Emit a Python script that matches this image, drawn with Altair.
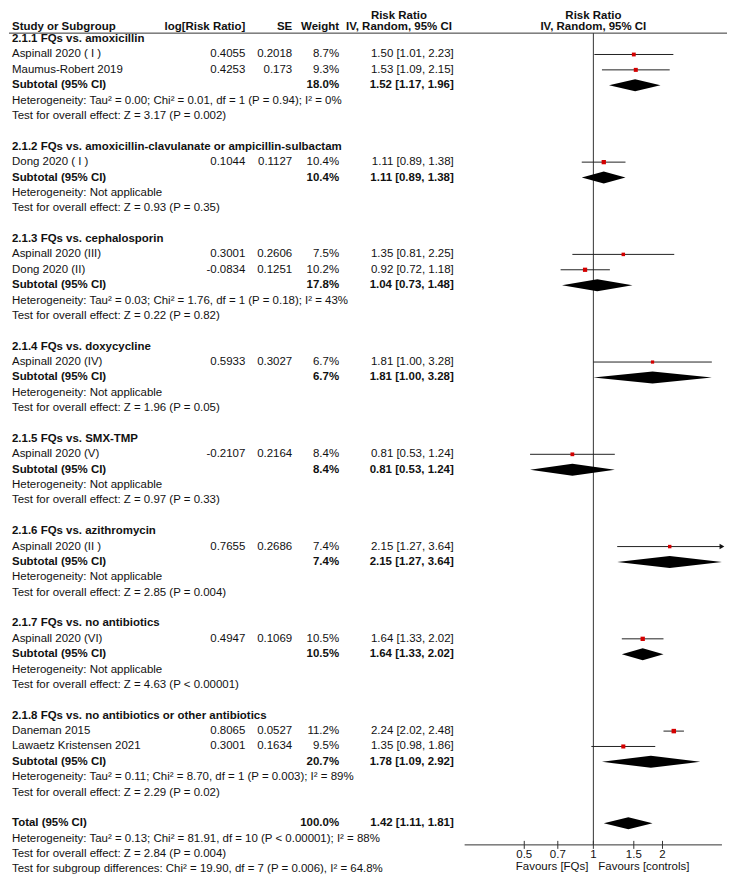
import math
import altair as alt
import pandas as pd

# ---------------- data ----------------
group_titles = [
    "2.1.1 FQs vs. amoxicillin",
    "2.1.2 FQs vs. amoxicillin-clavulanate or ampicillin-sulbactam",
    "2.1.3 FQs vs. cephalosporin",
    "2.1.4 FQs vs. doxycycline",
    "2.1.5 FQs vs. SMX-TMP",
    "2.1.6 FQs vs. azithromycin",
    "2.1.7 FQs vs. no antibiotics",
    "2.1.8 FQs vs. no antibiotics or other antibiotics",
]
study_names = [
    "Aspinall 2020 ( I )", "Maumus-Robert 2019", "Dong 2020 ( I )",
    "Aspinall 2020 (III)", "Dong 2020 (II)", "Aspinall 2020 (IV)",
    "Aspinall 2020 (V)", "Aspinall 2020 (II )", "Aspinall 2020 (VI)",
    "Daneman 2015", "Lawaetz Kristensen 2021",
]
study_group = [0, 0, 1, 2, 2, 3, 4, 5, 6, 7, 7]
study_log_rr = [0.4055, 0.4253, 0.1044, 0.3001, -0.0834, 0.5933, -0.2107, 0.7655, 0.4947, 0.8065, 0.3001]
study_se = [0.2018, 0.173, 0.1127, 0.2606, 0.1251, 0.3027, 0.2164, 0.2686, 0.1069, 0.0527, 0.1634]
study_weight = [8.7, 9.3, 10.4, 7.5, 10.2, 6.7, 8.4, 7.4, 10.5, 11.2, 9.5]
study_rr = [1.50, 1.53, 1.11, 1.35, 0.92, 1.81, 0.81, 2.15, 1.64, 2.24, 1.35]
study_lo = [1.01, 1.09, 0.89, 0.81, 0.72, 1.00, 0.53, 1.27, 1.33, 2.02, 0.98]
study_hi = [2.23, 2.15, 1.38, 2.25, 1.18, 3.28, 1.24, 3.64, 2.02, 2.48, 1.86]

subtotal_weight = [18.0, 10.4, 17.8, 6.7, 8.4, 7.4, 10.5, 20.7]
subtotal_rr = [1.52, 1.11, 1.04, 1.81, 0.81, 2.15, 1.64, 1.78]
subtotal_lo = [1.17, 0.89, 0.73, 1.00, 0.53, 1.27, 1.33, 1.09]
subtotal_hi = [1.96, 1.38, 1.48, 3.28, 1.24, 3.64, 2.02, 2.92]

heterogeneity = [
    "Heterogeneity: Tau² = 0.00; Chi² = 0.01, df = 1 (P = 0.94); I² = 0%",
    "Heterogeneity: Not applicable",
    "Heterogeneity: Tau² = 0.03; Chi² = 1.76, df = 1 (P = 0.18); I² = 43%",
    "Heterogeneity: Not applicable",
    "Heterogeneity: Not applicable",
    "Heterogeneity: Not applicable",
    "Heterogeneity: Not applicable",
    "Heterogeneity: Tau² = 0.11; Chi² = 8.70, df = 1 (P = 0.003); I² = 89%",
]
overall_effect = [
    "Test for overall effect: Z = 3.17 (P = 0.002)",
    "Test for overall effect: Z = 0.93 (P = 0.35)",
    "Test for overall effect: Z = 0.22 (P = 0.82)",
    "Test for overall effect: Z = 1.96 (P = 0.05)",
    "Test for overall effect: Z = 0.97 (P = 0.33)",
    "Test for overall effect: Z = 2.85 (P = 0.004)",
    "Test for overall effect: Z = 4.63 (P < 0.00001)",
    "Test for overall effect: Z = 2.29 (P = 0.02)",
]
total_weight = 100.0
total_rr, total_lo, total_hi = 1.42, 1.11, 1.81
total_notes = [
    "Heterogeneity: Tau² = 0.13; Chi² = 81.91, df = 10 (P < 0.00001); I² = 88%",
    "Test for overall effect: Z = 2.84 (P = 0.004)",
    "Test for subgroup differences: Chi² = 19.90, df = 7 (P = 0.006), I² = 64.8%",
]
tick_values = [0.5, 0.7, 1, 1.5, 2]
tick_labels = ["0.5", "0.7", "1", "1.5", "2"]
favours_labels = ["Favours [FQs]", "Favours [controls]"]

# ---------------- layout constants ----------------
FONT = "Liberation Sans, Arial, sans-serif"
FS = 11.5
TXT = "#111111"
W, H = 720, 866
ROW0_Y, ROW_STEP = 29.0, 15.42          # plot-area pixels of row 0 and per-row step
XMIN, XMAX = 0.275, 3.63                # plotted risk-ratio range
X_ONE = 586.0                           # pixel of RR = 1
PX_PER_LN = 100.0
N_ROWS_SPAN = 54


def row_at(y_px):
    return (y_px - ROW0_Y) / ROW_STEP


def ci_text(rr, lo, hi):
    return f"{rr:.2f} [{lo:.2f}, {hi:.2f}]"


# ---------------- build table ----------------
rows = []
r = 0
for g, title in enumerate(group_titles):
    rows.append(dict(row=r, kind="group", label=title))
    r += 1
    for i, gg in enumerate(study_group):
        if gg != g:
            continue
        rows.append(dict(row=r, kind="study", label=study_names[i],
                         logrr=str(study_log_rr[i]), se=str(study_se[i]),
                         wtxt=f"{study_weight[i]:.1f}%", w=study_weight[i],
                         ci=ci_text(study_rr[i], study_lo[i], study_hi[i]),
                         rr=study_rr[i], lo=study_lo[i], hi=study_hi[i]))
        r += 1
    rows.append(dict(row=r, kind="subtotal", label="Subtotal (95% CI)",
                     wtxt=f"{subtotal_weight[g]:.1f}%",
                     ci=ci_text(subtotal_rr[g], subtotal_lo[g], subtotal_hi[g]),
                     rr=subtotal_rr[g], lo=subtotal_lo[g], hi=subtotal_hi[g]))
    r += 1
    rows.append(dict(row=r, kind="note", label=heterogeneity[g]))
    r += 1
    rows.append(dict(row=r, kind="note", label=overall_effect[g]))
    r += 2
rows.append(dict(row=r, kind="subtotal", label="Total (95% CI)",
                 wtxt=f"{total_weight:.1f}%",
                 ci=ci_text(total_rr, total_lo, total_hi),
                 rr=total_rr, lo=total_lo, hi=total_hi))
r += 1
for note in total_notes:
    rows.append(dict(row=r, kind="note", label=note))
    r += 1

df = pd.DataFrame(rows)
AXIS_ROW = row_at(837)

# diamonds
HALF = 0.39
dia = []
for rec in rows:
    if rec["kind"] == "subtotal":
        rid = rec["row"]
        dia.append(dict(id=rid, x=rec["lo"], ya=rid, yb=rid))
        dia.append(dict(id=rid, x=rec["rr"], ya=rid - HALF, yb=rid + HALF))
        dia.append(dict(id=rid, x=rec["hi"], ya=rid, yb=rid))
dia_df = pd.DataFrame(dia)

ticks_df = pd.DataFrame(dict(t=tick_values, lab=tick_labels,
                             ra=[row_at(833)] * len(tick_values),
                             rb=[row_at(841)] * len(tick_values),
                             rl=[row_at(847.5)] * len(tick_values)))

# ---------------- scales ----------------
xscale = alt.Scale(type="log", domain=[XMIN, XMAX], nice=False, clamp=True,
                   range=[X_ONE + PX_PER_LN * math.log(XMIN), X_ONE + PX_PER_LN * math.log(XMAX)])
yscale = alt.Scale(domain=[0, N_ROWS_SPAN], nice=False, zero=False,
                   range=[ROW0_Y, ROW0_Y + ROW_STEP * N_ROWS_SPAN])


def X(field):
    return alt.X(field, type="quantitative", scale=xscale, axis=None)


def Y(field):
    return alt.Y(field, type="quantitative", scale=yscale, axis=None)


base = alt.Chart(df)


def text_layer(data, filt, field, x_px, align, bold=False, clip=False):
    ch = data if filt is None else data.transform_filter(filt)
    return ch.mark_text(align=align, baseline="middle", font=FONT, fontSize=FS, clip=clip,
                        fontWeight="bold" if bold else "normal", color=TXT).encode(
        x=alt.value(x_px), y=Y("row"), text=alt.Text(field, type="nominal"))


layers = []
# table text
layers.append(text_layer(base, "datum.kind == 'study' || datum.kind == 'note'", "label", 3, "left", clip=True))
layers.append(text_layer(base, "datum.kind == 'group' || datum.kind == 'subtotal'", "label", 3, "left", True))
layers.append(text_layer(base, "datum.kind == 'study'", "logrr", 237, "right"))
layers.append(text_layer(base, "datum.kind == 'study'", "se", 284, "right"))
layers.append(text_layer(base, "datum.kind == 'study'", "wtxt", 331, "right"))
layers.append(text_layer(base, "datum.kind == 'subtotal'", "wtxt", 331, "right", True))
layers.append(text_layer(base, "datum.kind == 'study'", "ci", 446, "right"))
layers.append(text_layer(base, "datum.kind == 'subtotal'", "ci", 446, "right", True))

# headers
H1, H2 = row_at(5.5), row_at(17)
LINE_ROW = row_at(23)
hdr = alt.Chart(pd.DataFrame(dict(
    label=["Study or Subgroup", "log[Risk Ratio]", "SE", "Weight", "Risk Ratio", "IV, Random, 95% CI"],
    row=[H2, H2, H2, H2, H1, H2],
    col=["a", "b", "c", "d", "e", "e"],
)))
layers.append(text_layer(hdr, "datum.col == 'a'", "label", 3, "left", True))
layers.append(text_layer(hdr, "datum.col == 'b'", "label", 237, "right", True))
layers.append(text_layer(hdr, "datum.col == 'c'", "label", 284, "right", True))
layers.append(text_layer(hdr, "datum.col == 'd'", "label", 331, "right", True))
layers.append(text_layer(hdr, "datum.col == 'e'", "label", 391, "center", True))
plot_hdr = alt.Chart(pd.DataFrame(dict(label=["Risk Ratio", "IV, Random, 95% CI"], row=[H1, H2], one=[1, 1])))
layers.append(plot_hdr.mark_text(align="center", baseline="middle", font=FONT, fontSize=FS,
                                  fontWeight="bold", color=TXT).encode(
    x=X("one"), y=Y("row"), text="label:N"))

# header underline
layers.append(alt.Chart(pd.DataFrame(dict(row=[LINE_ROW]))).mark_rule(
    color="#333333", strokeWidth=1).encode(x=alt.value(0), x2=alt.value(W), y=Y("row")))

# line of no effect
layers.append(alt.Chart(pd.DataFrame(dict(one=[1], ra=[LINE_ROW], rb=[AXIS_ROW]))).mark_rule(
    color="#333333", strokeWidth=1).encode(x=X("one"), y=Y("ra"), y2=alt.Y2("rb")))

# CI lines
layers.append(base.transform_filter("datum.kind == 'study'").mark_rule(
    color="#222222", strokeWidth=1).encode(x=X("lo"), x2=alt.X2("hi"), y=Y("row")))
# arrows where CI leaves the plotted range
layers.append(base.transform_filter(f"datum.kind == 'study' && datum.hi > {XMAX}").mark_point(
    shape="triangle-right", filled=True, color="#111111", size=30, opacity=1).encode(
    x=X("hi"), y=Y("row")))
# study squares
layers.append(base.transform_filter("datum.kind == 'study'").mark_square(
    color="#d40000", opacity=1).encode(
    x=X("rr"), y=Y("row"),
    size=alt.Size("w:Q", scale=alt.Scale(domain=[6, 12], range=[9, 22]), legend=None)))
# diamonds
layers.append(alt.Chart(dia_df).mark_area(color="black", orient="vertical", opacity=1).encode(
    x=X("x"), y=Y("ya"), y2=alt.Y2("yb"), detail="id:N"))

# bottom axis drawn from tick data
layers.append(alt.Chart(pd.DataFrame(dict(a=[XMIN], b=[XMAX], row=[AXIS_ROW]))).mark_rule(
    color="#333333", strokeWidth=1).encode(x=X("a"), x2=alt.X2("b"), y=Y("row")))
tk = alt.Chart(ticks_df)
layers.append(tk.mark_rule(color="#333333", strokeWidth=1).encode(x=X("t"), y=Y("ra"), y2=alt.Y2("rb")))
layers.append(tk.mark_text(align="center", baseline="middle", font=FONT, fontSize=FS, color=TXT).encode(
    x=X("t"), y=Y("rl"), text="lab:N"))
fav = pd.DataFrame(dict(one=[1, 1], lab=favours_labels, row=[row_at(859.5)] * 2))
layers.append(alt.Chart(fav).transform_filter(f"datum.lab == '{favours_labels[0]}'").mark_text(
    align="right", baseline="middle", dx=-5, font=FONT, fontSize=FS, color=TXT).encode(
    x=X("one"), y=Y("row"), text="lab:N"))
layers.append(alt.Chart(fav).transform_filter(f"datum.lab == '{favours_labels[1]}'").mark_text(
    align="left", baseline="middle", dx=5, font=FONT, fontSize=FS, color=TXT).encode(
    x=X("one"), y=Y("row"), text="lab:N"))

chart = alt.layer(*layers).properties(width=W, height=H, padding=0).configure_view(stroke=None)

chart.save("out.html", embed_options={"renderer": "svg", "actions": False})
